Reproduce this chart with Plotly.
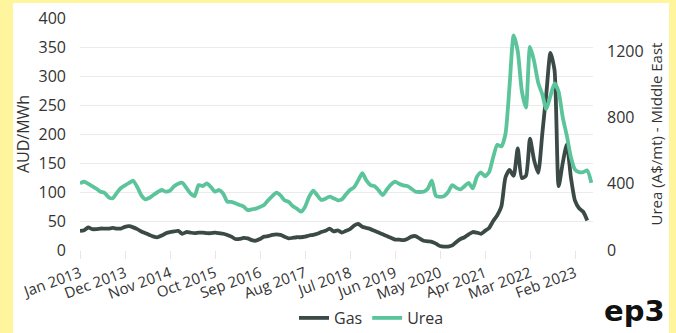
import plotly.graph_objects as go

W, H = 676, 333
ML, MR, MT, MB = 80, 83, 18, 83

month_names = ["Jan", "Feb", "Mar", "Apr", "May", "Jun", "Jul", "Aug", "Sep", "Oct", "Nov", "Dec"]
months = [f"{month_names[i % 12]} {2013 + i // 12}" for i in range(126)]

gas = [
    33, 34, 39, 36, 36, 37, 37, 37, 38, 37, 37, 40,
    41, 39, 36, 32, 29, 26, 23, 22, 25, 29, 31, 32,
    33, 28, 31, 30, 29, 30, 30, 29, 29, 30, 29, 28,
    26, 23, 19, 19, 21, 20, 17, 16, 19, 23, 24, 26,
    27, 26, 23, 20, 21, 22, 22, 23, 25, 26, 28, 31,
    33, 37, 32, 34, 30, 33, 36, 42, 45, 40, 38, 36,
    33, 30, 27, 24, 21, 18, 18, 17, 19, 23, 24, 20,
    16, 15, 14, 11, 7, 6, 6, 8, 14, 19, 22, 27,
    31, 30, 28, 33, 38, 50, 60, 75, 125, 138, 128, 175,
    124, 128, 192, 155, 133, 200, 270, 340, 310, 110, 150, 182,
    125, 85, 72, 66, 51,
]

urea = [
    402, 412, 400, 385, 370, 352, 345, 318, 312, 345, 374, 390,
    405, 418, 380, 330, 306, 315, 333, 350, 362, 352, 358, 385,
    400, 406, 375, 342, 325, 392, 386, 402, 380, 352, 362, 340,
    292, 290, 282, 272, 262, 241, 245, 250, 260, 272, 300, 325,
    346, 330, 300, 290, 265, 250, 231, 260, 320, 358, 330, 302,
    310, 322, 312, 300, 305, 335, 362, 379, 420, 463, 420, 392,
    385, 360, 332, 365, 395, 412, 400, 390, 386, 370, 352, 350,
    352, 370, 418, 326, 320, 325, 350, 392, 375, 366, 385, 405,
    372, 440, 468, 445, 470, 560, 635, 625, 700, 990, 1295, 1200,
    960, 860, 1225, 1140, 1010, 940, 850, 930, 1005, 955, 800, 690,
    560, 485, 470, 470, 480, 405,
]

tick_labels = [months[i] for i in range(0, 126, 11)]
left_ticks = [0, 50, 100, 150, 200, 250, 300, 350, 400]
right_ticks = [0, 400, 800, 1200]

GAS_C = "#3c4a47"
UREA_C = "#5cc49b"
YELLOW = "#fef59c"
TXT = "#333333"
FONT = "Open Sans"

fig = go.Figure()
fig.add_trace(go.Scatter(x=months[:len(gas)], y=gas, name="Gas", mode="lines",
                         line=dict(color=GAS_C, width=3.8, shape="spline", smoothing=0.6)))
fig.add_trace(go.Scatter(x=months[:len(urea)], y=urea, name="Urea", mode="lines", yaxis="y2",
                         line=dict(color=UREA_C, width=3.8, shape="spline", smoothing=0.6)))

pw = W - ML - MR
ph = H - MT - MB

def px_x(p):
    return (p - ML) / pw

def px_y(p):
    return (H - MB - p) / ph

fig.add_shape(type="rect", xref="paper", yref="paper", layer="below",
              x0=px_x(13), x1=px_x(669), y0=px_y(340), y1=px_y(3),
              fillcolor="white", line=dict(width=0))

fig.add_annotation(text="<b>ep3</b>", xref="paper", yref="paper", x=px_x(667), y=px_y(311),
                   xanchor="right", yanchor="middle", showarrow=False,
                   font=dict(family="DejaVu Sans", size=29, color="#111111"))

fig.update_layout(
    width=W, height=H,
    margin=dict(l=ML, r=MR, t=MT, b=MB, pad=0, autoexpand=False),
    paper_bgcolor=YELLOW,
    plot_bgcolor="rgba(0,0,0,0)",
    font=dict(family=FONT, size=15, color=TXT),
    showlegend=True,
    legend=dict(orientation="h", x=px_x(294), y=px_y(318), xanchor="left", yanchor="middle",
                font=dict(size=16, color=TXT), bgcolor="rgba(0,0,0,0)",
                itemwidth=30, tracegroupgap=0),
    xaxis=dict(type="category", range=[0, 125.4], tickmode="array", tickvals=tick_labels,
               ticktext=tick_labels, tickangle=-20, showgrid=False, zeroline=False,
               ticks="outside", ticklen=8, tickcolor="#e6e6e6", showline=False,
               automargin=False, tickfont=dict(size=15, color=TXT)),
    yaxis=dict(range=[0, 400], tickvals=left_ticks, showgrid=True, gridcolor="#ebebeb",
               gridwidth=1, zeroline=False, ticks="", ticklabelstandoff=13, automargin=False,
               title=dict(text="AUD/MWh", standoff=4, font=dict(size=16, color=TXT)),
               tickfont=dict(size=16, color=TXT)),
    yaxis2=dict(range=[0, 1400], tickvals=right_ticks, overlaying="y", side="right",
                showgrid=False, zeroline=False, ticks="", ticklabelstandoff=13, automargin=False,
                title=dict(text="Urea (A$/mt) - Middle East", standoff=8,
                           font=dict(size=15, color=TXT)),
                tickfont=dict(size=16, color=TXT)),
)

fig.write_html("out.html")
